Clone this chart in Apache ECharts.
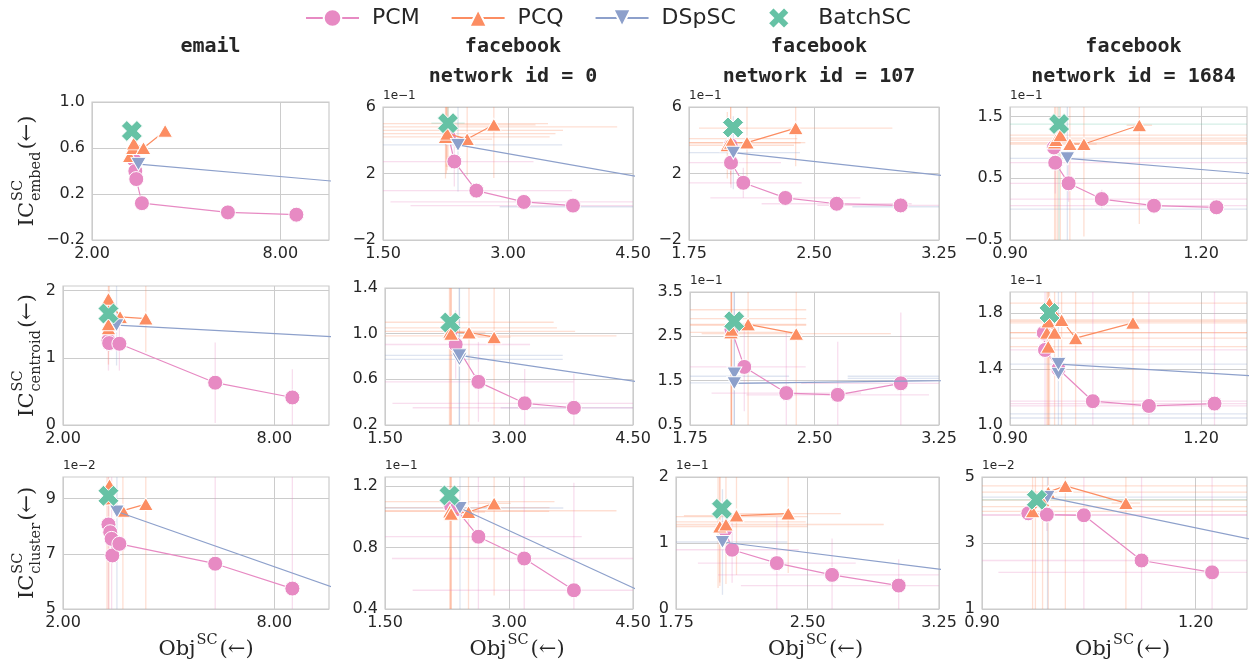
<!DOCTYPE html>
<html>
<head>
<meta charset="utf-8">
<script src="https://cdn.jsdelivr.net/npm/echarts@6/dist/echarts.min.js"></script>
<style>
  html, body { margin: 0; padding: 0; background: #fff; }
  #chart { width: 1249px; height: 668px; }
</style>
</head>
<body>
<div id="chart"></div>
<script>
// seaborn Set2 colours
const COLORS = { PCM: '#e78ac3', PCQ: '#fc8d62', DSpSC: '#8da0cb', BatchSC: '#66c2a5' }
const METHODS = ['PCM', 'PCQ', 'DSpSC', 'BatchSC']

const columnTitles = ['email', 'facebook\nnetwork id = 0', 'facebook\nnetwork id = 107', 'facebook\nnetwork id = 1684']
const rowMetrics = ['embed', 'centroid', 'cluster']

// x axis per column
const xRanges = [[2, 9.55], [1.5, 4.5], [1.75, 3.25], [0.9, 1.272]]
const xTicks = [[2, 8], [1.5, 3, 4.5], [1.75, 2.5, 3.25], [0.9, 1.2]]

// y axis per panel, row by row, in the units printed on the axis (see yExponent)
const yRanges = [
  [[-0.2, 1.0], [-2, 6], [-2, 6], [-0.5, 1.656]],
  [[0, 2.07], [0.2, 1.4], [0.5, 3.5], [1.0, 1.95]],
  [[5, 9.78], [0.4, 1.26], [0, 2], [1, 5]]
]
const yTicks = [
  [[-0.2, 0.2, 0.6, 1.0], [-2, 2, 6], [-2, 2, 6], [-0.5, 0.5, 1.5]],
  [[0, 1, 2], [0.2, 0.6, 1.0, 1.4], [0.5, 1.5, 2.5, 3.5], [1.0, 1.4, 1.8]],
  [[5, 7, 9], [0.4, 0.8, 1.2], [0, 1, 2], [1, 3, 5]]
]
const yDecimals = [[1, 0, 0, 1], [0, 1, 1, 1], [0, 1, 0, 0]]
const yExponent = [
  ['', '1e\u22121', '1e\u22121', '1e\u22121'],
  ['', '', '1e\u22121', '1e\u22121'],
  ['1e\u22122', '1e\u22121', '1e\u22121', '1e\u22122']
]

// points [Obj, IC] per panel
const pcmPoints = [
  [
    [[3.33, 0.50], [3.38, 0.40], [3.41, 0.33], [3.59, 0.12], [6.33, 0.04], [8.51, 0.02]],
    [[2.29, 4.2], [2.356, 2.72], [2.62, 0.97], [3.19, 0.29], [3.78, 0.07]],
    [[2.0, 3.7], [2.002, 2.65], [2.076, 1.44], [2.328, 0.53], [2.636, 0.18], [3.02, 0.08]],
    [[0.969, 1.0], [0.971, 0.753], [0.992, 0.419], [1.044, 0.164], [1.126, 0.056], [1.224, 0.03]]
  ],
  [
    [[3.29, 1.26], [3.31, 1.22], [3.6, 1.21], [6.32, 0.63], [8.51, 0.41]],
    [[2.30, 1.03], [2.355, 0.905], [2.63, 0.578], [3.19, 0.39], [3.785, 0.351]],
    [[2.0, 2.65], [2.077, 1.81], [2.33, 1.22], [2.64, 1.18], [3.02, 1.44]],
    [[0.953, 1.658], [0.955, 1.536], [0.976, 1.40], [1.03, 1.17], [1.118, 1.136], [1.221, 1.153]]
  ],
  [
    [[3.29, 8.06], [3.34, 7.78], [3.38, 7.54], [3.40, 6.94], [3.6, 7.36], [6.32, 6.64], [8.51, 5.74]],
    [[2.30, 1.07], [2.36, 1.05], [2.63, 0.871], [3.184, 0.729], [3.785, 0.522]],
    [[2.03, 1.2], [2.07, 0.898], [2.325, 0.695], [2.64, 0.517], [3.02, 0.355]],
    [[0.965, 3.9], [0.991, 3.86], [1.043, 3.84], [1.124, 2.47], [1.223, 2.11]]
  ]
]

const pcqPoints = [
  [
    [[3.2, 0.53], [3.3, 0.6], [3.33, 0.64], [3.64, 0.60], [4.33, 0.75]],
    [[2.25, 4.2], [2.27, 4.4], [2.51, 4.07], [2.83, 4.93]],
    [[1.98, 3.7], [2.0, 3.85], [2.098, 3.86], [2.39, 4.73]],
    [[0.970, 1.08], [0.972, 1.12], [0.979, 1.2], [0.994, 1.056], [1.016, 1.056], [1.103, 1.36]]
  ],
  [
    [[3.29, 1.44], [3.29, 1.5], [3.29, 1.88], [3.62, 1.61], [4.35, 1.585]],
    [[2.286, 1.016], [2.30, 1.0], [2.516, 1.01], [2.82, 0.969]],
    [[1.997, 2.59], [2.0, 2.65], [2.10, 2.77], [2.39, 2.56]],
    [[0.96, 1.56], [0.958, 1.66], [0.97, 1.66], [0.96, 1.74], [0.962, 1.87], [0.981, 1.75], [1.003, 1.62], [1.093, 1.73]]
  ],
  [
    [[3.32, 9.49], [3.30, 9.0], [3.70, 8.56], [4.35, 8.8]],
    [[2.286, 1.036], [2.30, 1.02], [2.51, 1.032], [2.82, 1.088]],
    [[2.0, 1.25], [2.035, 1.28], [2.095, 1.416], [2.39, 1.446]],
    [[0.971, 3.96], [0.985, 4.3], [0.993, 4.54], [1.017, 4.73], [1.102, 4.21]]
  ]
]

// last point of each DSpSC run lies outside the visible range
const dspscPoints = [
  [
    [[3.48, 0.46], [20, 0.064]],
    [[2.40, 3.72], [6.6, 0.0]],
    [[2.016, 3.25], [5.0, 0.0]],
    [[0.99, 0.824], [1.946, 0.0]]
  ],
  [
    [[3.52, 1.486], [20, 1.03]],
    [[2.40, 0.775], [2.40, 0.81], [6.7, 0.35]],
    [[2.017, 1.66], [2.017, 1.44], [5.3, 1.6]],
    [[0.976, 1.365], [0.976, 1.435], [3, 0.876]]
  ],
  [
    [[3.53, 8.53], [20, 1.15]],
    [[2.407, 1.058], [10, -0.825]],
    [[2.015, 1.015], [6, -0.312]],
    [[0.992, 4.39], [2, -0.11]]
  ]
]

const batchPoints = [
  [[3.27, 0.748], [2.28, 5.03], [2.014, 4.77], [0.977, 1.38]],
  [[3.29, 1.66], [2.29, 1.098], [2.016, 2.84], [0.962, 1.80]],
  [[3.29, 9.1], [2.28, 1.14], [2.012, 1.517], [0.977, 4.31]]
]

// error bars per panel: [method, x, y, xerr, yerr]
const errorBars = [
  [
    [
      ['PCM', 6.33, 0.04, 0, 0.03], ['PCQ', 4.33, 0.75, 0, 0.04]
    ],
    [
      ['PCQ', 2.25, 4.2, 1.25, 2.5], ['PCQ', 2.27, 4.4, 1.3, 2.2], ['PCQ', 2.26, 4.6, 1.4, 2.6],
      ['PCQ', 2.26, 4.8, 2.05, 2.4], ['PCQ', 2.28, 5.0, 1.2, 2.6], ['PCQ', 2.51, 4.07, 0.3, 2.2],
      ['PCQ', 2.83, 4.93, 0.5, 3.2],
      ['DSpSC', 2.40, 3.72, 1.25, 2.8], ['DSpSC', 6.6, 0.0, 3.7, 0],
      ['PCM', 2.356, 2.72, 0.95, 1.5], ['PCM', 2.62, 0.97, 1.15, 0.4],
      ['PCM', 3.19, 0.29, 1.6, 0.3], ['PCM', 3.78, 0.07, 1.95, 0.2],
      ['BatchSC', 2.28, 5.03, 0.2, 1.0]
    ],
    [
      ['PCQ', 1.98, 3.7, 0.4, 2.0], ['PCQ', 2.0, 3.85, 0.42, 2.5], ['PCQ', 2.0, 4.1, 0.4, 2.2],
      ['PCQ', 2.098, 3.86, 0.35, 2.3], ['PCQ', 2.39, 4.73, 0.58, 2.3],
      ['DSpSC', 2.016, 3.25, 0.4, 2.2], ['DSpSC', 5.0, 0.0, 2.27, 0],
      ['PCM', 2.076, 1.44, 0.35, 0.9], ['PCM', 2.328, 0.53, 0.45, 0.4],
      ['PCM', 2.636, 0.18, 0.45, 0.2], ['PCM', 3.02, 0.08, 0.5, 0.2], ['PCM', 2.002, 2.65, 0.3, 1.5]
    ],
    [
      ['PCQ', 0.970, 1.08, 0.5, 2.0], ['PCQ', 0.972, 1.12, 0.5, 2.0], ['PCQ', 0.979, 1.2, 0.5, 2.0],
      ['PCQ', 0.975, 1.15, 0.5, 2.0], ['PCQ', 0.994, 1.056, 0.5, 1.6],
      ['PCQ', 1.016, 1.056, 0.02, 1.5], ['PCQ', 1.103, 1.36, 0.02, 1.6],
      ['DSpSC', 0.99, 0.824, 0.5, 1.5], ['DSpSC', 1.946, 0.0, 1.2, 0],
      ['PCM', 0.971, 0.753, 0.4, 0.5], ['PCM', 0.992, 0.419, 0.4, 0.3],
      ['PCM', 1.044, 0.164, 0.4, 0.15], ['PCM', 1.126, 0.056, 0.4, 0.1],
      ['BatchSC', 0.977, 1.38, 0.5, 2.0]
    ]
  ],
  [
    [
      ['PCM', 6.32, 0.63, 0, 0.6], ['PCM', 8.51, 0.41, 0, 0.42], ['PCM', 3.6, 1.21, 0, 0.4],
      ['PCM', 3.29, 1.26, 0, 0.45], ['PCQ', 4.35, 1.585, 0, 0.5], ['PCQ', 3.29, 1.5, 0, 0.6],
      ['PCQ', 3.31, 1.6, 0, 0.5], ['DSpSC', 3.52, 1.486, 0, 0.6]
    ],
    [
      ['PCQ', 2.29, 1.1, 1.25, 1.2], ['PCQ', 2.28, 1.05, 1.3, 1.2], ['PCQ', 2.3, 1.02, 1.5, 1.2],
      ['PCQ', 2.3, 0.98, 2.0, 1.2], ['PCQ', 2.516, 1.01, 0.2, 1.1], ['PCQ', 2.82, 0.969, 0.2, 1.1],
      ['DSpSC', 2.40, 0.81, 1.25, 1.2], ['DSpSC', 2.40, 0.775, 1.25, 1.2], ['DSpSC', 6.7, 0.35, 3.8, 0],
      ['PCM', 2.355, 0.905, 0.9, 0.3], ['PCM', 2.63, 0.578, 1.15, 0.35],
      ['PCM', 3.19, 0.39, 1.6, 0.3], ['PCM', 3.785, 0.351, 1.95, 0.3]
    ],
    [
      ['PCQ', 1.997, 2.59, 0.42, 3.0], ['PCQ', 2.0, 2.75, 0.45, 3.0], ['PCQ', 2.0, 2.9, 0.45, 3.0],
      ['PCQ', 2.0, 3.1, 0.45, 3.0], ['PCQ', 2.10, 2.77, 0.35, 3.0], ['PCQ', 2.39, 2.56, 0.57, 3.0],
      ['DSpSC', 2.017, 1.45, 0.33, 3.0], ['DSpSC', 2.017, 1.6, 0.33, 3.0],
      ['DSpSC', 5.3, 1.6, 2.6, 0], ['DSpSC', 5.3, 1.55, 2.6, 0],
      ['PCM', 2.077, 1.81, 0.37, 1.0], ['PCM', 2.33, 1.22, 0.45, 1.4],
      ['PCM', 2.64, 1.18, 0.55, 1.2], ['PCM', 3.02, 1.44, 0.6, 1.6]
    ],
    [
      ['PCQ', 0.96, 1.56, 0.4, 1.0], ['PCQ', 0.958, 1.66, 0.4, 1.0], ['PCQ', 0.97, 1.66, 0.4, 1.0],
      ['PCQ', 0.96, 1.74, 0.4, 1.0], ['PCQ', 0.962, 1.87, 0.4, 1.0], ['PCQ', 0.981, 1.75, 0.4, 1.0],
      ['PCQ', 1.003, 1.62, 0.4, 1.0], ['PCQ', 1.093, 1.73, 0.4, 1.0],
      ['PCM', 1.03, 1.17, 0.4, 1.0], ['PCM', 1.118, 1.136, 0.4, 1.0], ['PCM', 1.221, 1.153, 0.4, 1.0],
      ['PCM', 0.955, 1.536, 0.4, 1.0],
      ['DSpSC', 0.976, 1.435, 0.4, 1.0], ['DSpSC', 0.976, 1.05, 0.4, 0], ['DSpSC', 0.976, 1.08, 0.4, 0]
    ]
  ],
  [
    [
      ['PCM', 3.29, 8.06, 0, 5], ['PCM', 3.38, 7.54, 0, 5], ['PCQ', 3.30, 9.0, 0, 5],
      ['PCQ', 3.25, 9.2, 0, 5], ['PCQ', 4.35, 8.8, 0, 5], ['PCQ', 3.70, 8.56, 0, 5],
      ['PCM', 6.32, 6.64, 0, 5], ['PCM', 8.51, 5.74, 0, 5], ['DSpSC', 3.53, 8.53, 0, 5]
    ],
    [
      ['PCQ', 2.286, 1.036, 1.2, 1.0], ['PCQ', 2.29, 1.06, 1.2, 1.0], ['PCQ', 2.3, 1.1, 1.25, 1.0],
      ['PCQ', 2.3, 1.04, 2.0, 1.0], ['PCQ', 2.51, 1.032, 0.2, 1.0], ['PCQ', 2.82, 1.088, 0.2, 0.6],
      ['DSpSC', 2.407, 1.058, 1.25, 1.0],
      ['PCM', 2.63, 0.871, 1.25, 1.0], ['PCM', 3.184, 0.729, 1.6, 1.0], ['PCM', 3.785, 0.522, 1.95, 0.7]
    ],
    [
      ['PCQ', 2.0, 1.25, 0.5, 0.9], ['PCQ', 1.99, 1.32, 0.5, 1.0], ['PCQ', 2.0, 1.4, 0.5, 1.0],
      ['PCQ', 2.035, 1.28, 0.9, 0.9], ['PCQ', 2.095, 1.416, 0.3, 0.9], ['PCQ', 2.39, 1.446, 0.3, 0.9],
      ['DSpSC', 2.015, 1.015, 0.37, 0.8],
      ['PCM', 2.07, 0.898, 0.38, 0.5], ['PCM', 2.325, 0.695, 0.45, 0.7],
      ['PCM', 2.64, 0.517, 0.65, 0.55], ['PCM', 3.02, 0.355, 0.9, 0.4]
    ],
    [
      ['PCQ', 0.971, 3.96, 0.4, 4], ['PCQ', 0.975, 4.1, 0.4, 4], ['PCQ', 0.985, 4.3, 0.4, 4],
      ['PCQ', 0.993, 4.54, 0.4, 4], ['PCQ', 1.017, 4.73, 0.4, 4], ['PCQ', 1.102, 4.21, 0.02, 4],
      ['PCM', 0.991, 3.86, 0.4, 0.5], ['PCM', 1.043, 3.84, 0.4, 4],
      ['PCM', 1.124, 2.47, 0.3, 4], ['PCM', 1.223, 2.11, 0.3, 4],
      ['DSpSC', 0.992, 4.39, 0.5, 4], ['BatchSC', 0.977, 4.31, 0.5, 0.2]
    ]
  ]
]

// plot boxes in pixels: [left, top, right, bottom]
const panelBoxes = [
  [[92, 102, 329, 240], [383, 107, 633, 240], [689, 107, 939, 240], [1010, 107, 1247, 240]],
  [[63, 286, 329, 425], [385, 288, 633, 425], [690, 292, 939, 425], [1010, 292, 1247, 425]],
  [[63, 477, 329, 609], [385, 477, 633, 609], [676, 477, 939, 609], [982, 477, 1247, 609]]
]

const X_SYMBOL = 'path://M2.6,0 L5,2.4 L7.4,0 L10,2.6 L7.6,5 L10,7.4 L7.4,10 L5,7.6 L2.6,10 L0,7.4 L2.4,5 L0,2.6 Z'
const TEXT_COLOR = '#262626'
const GRID_COLOR = '#cccccc'

const minus = (s) => String(s).replace('-', '\u2212')

const chart = echarts.init(document.getElementById('chart'))

const grids = []
const xAxes = []
const yAxes = []
const series = []
const graphics = []

const renderErrorBar = (params, api) => {
  const x = api.value(0)
  const y = api.value(1)
  const xe = api.value(2)
  const ye = api.value(3)
  const color = api.visual('color')
  const style = { stroke: color, lineWidth: 1.3, opacity: 0.28 }
  const kids = []
  if (xe > 0) {
    const a = api.coord([x - xe, y])
    const b = api.coord([x + xe, y])
    kids.push({ type: 'line', shape: { x1: a[0], y1: a[1], x2: b[0], y2: b[1] }, style })
  }
  if (ye > 0) {
    const a = api.coord([x, y - ye])
    const b = api.coord([x, y + ye])
    kids.push({ type: 'line', shape: { x1: a[0], y1: a[1], x2: b[0], y2: b[1] }, style })
  }
  return { type: 'group', children: kids }
}

for (let r = 0; r < 3; r++) {
  for (let c = 0; c < 4; c++) {
    const i = r * 4 + c
    const [l, t, rr, b] = panelBoxes[r][c]
    grids.push({
      left: l, top: t, width: rr - l, height: b - t,
      show: true, borderColor: GRID_COLOR, borderWidth: 1.2, backgroundColor: '#fff'
    })
    xAxes.push({
      type: 'value', gridIndex: i,
      min: xRanges[c][0], max: xRanges[c][1],
      axisLine: { show: false },
      axisTick: { show: false, customValues: xTicks[c] },
      splitLine: { show: true, lineStyle: { color: GRID_COLOR, width: 1 } },
      axisLabel: {
        customValues: xTicks[c], margin: 6,
        color: TEXT_COLOR, fontSize: 16, fontFamily: 'DejaVu Sans',
        formatter: (v) => v.toFixed(2)
      }
    })
    const dec = yDecimals[r][c]
    yAxes.push({
      type: 'value', gridIndex: i,
      min: yRanges[r][c][0], max: yRanges[r][c][1],
      axisLine: { show: false },
      axisTick: { show: false, customValues: yTicks[r][c] },
      splitLine: { show: true, lineStyle: { color: GRID_COLOR, width: 1 } },
      axisLabel: {
        customValues: yTicks[r][c], margin: 7,
        color: TEXT_COLOR, fontSize: 16, fontFamily: 'DejaVu Sans',
        formatter: (v) => minus(v.toFixed(dec))
      }
    })

    const base = { xAxisIndex: i, yAxisIndex: i, animation: false }
    series.push({
      ...base, type: 'custom', clip: true, z: 1, silent: true,
      renderItem: renderErrorBar,
      data: errorBars[r][c].map(([m, x, y, xe, ye]) => ({
        value: [x, y, xe, ye], itemStyle: { color: COLORS[m] }
      }))
    })
    series.push({
      ...base, name: 'PCM', type: 'line', data: pcmPoints[r][c], z: 2,
      symbol: 'circle', symbolSize: 15,
      itemStyle: { color: COLORS.PCM, borderColor: '#fff', borderWidth: 1 },
      lineStyle: { color: COLORS.PCM, width: 1.2 }
    })
    series.push({
      ...base, name: 'PCQ', type: 'line', data: pcqPoints[r][c], z: 3,
      symbol: 'triangle', symbolSize: [15, 13],
      itemStyle: { color: COLORS.PCQ, borderColor: '#fff', borderWidth: 1 },
      lineStyle: { color: COLORS.PCQ, width: 1.2 }
    })
    series.push({
      ...base, name: 'DSpSC', type: 'line', data: dspscPoints[r][c], z: 4,
      symbol: 'triangle', symbolRotate: 180, symbolSize: [15, 13],
      itemStyle: { color: COLORS.DSpSC, borderColor: '#fff', borderWidth: 1 },
      lineStyle: { color: COLORS.DSpSC, width: 1.2 }
    })
    series.push({
      ...base, name: 'BatchSC', type: 'scatter', data: [batchPoints[r][c]], z: 5,
      symbol: X_SYMBOL, symbolSize: 21,
      itemStyle: { color: COLORS.BatchSC, borderColor: '#fff', borderWidth: 1, opacity: 1 }
    })

    if (yExponent[r][c]) {
      graphics.push({
        type: 'text', left: l, top: t - 17,
        style: { text: yExponent[r][c], fontSize: 12, fontFamily: 'DejaVu Sans', fill: TEXT_COLOR }
      })
    }
  }
}

// column titles
columnTitles.forEach((title, c) => {
  const [l, , rr] = panelBoxes[0][c]
  graphics.push({
    type: 'text', x: (l + rr) / 2 + (c === 0 ? 0 : 5), y: 32,
    style: {
      text: title, fontSize: 20, fontWeight: 'bold', fontFamily: 'DejaVu Sans Mono',
      fill: TEXT_COLOR, align: 'center', verticalAlign: 'top', lineHeight: 30
    }
  })
})

// text width helper for placing super/subscripts
const measureCtx = document.createElement('canvas').getContext('2d')
const textWidth = (txt, size) => {
  measureCtx.font = size + 'px "DejaVu Serif"'
  return measureCtx.measureText(txt).width
}

const mathLabel = (main, sup, sub) => {
  const big = 21
  const small = 14.5
  const wMain = textWidth(main, big)
  const wScript = Math.max(textWidth(sup, small), sub ? textWidth(sub, small) : 0)
  const wTail = textWidth('(\u2190)', big)
  const total = wMain + 1 + wScript + 2 + wTail
  const x0 = -total / 2
  const font = { fontFamily: 'DejaVu Serif', fill: TEXT_COLOR, verticalAlign: 'middle' }
  const kids = [
    { type: 'text', x: x0, y: 0, style: { ...font, text: main, fontSize: big } },
    { type: 'text', x: x0 + wMain + 1, y: -10, style: { ...font, text: sup, fontSize: small } },
    { type: 'text', x: x0 + wMain + 1 + wScript + 2, y: 0, style: { ...font, text: '(\u2190)', fontSize: big } }
  ]
  if (sub) kids.push({ type: 'text', x: x0 + wMain + 1, y: 8, style: { ...font, text: sub, fontSize: small } })
  return kids
}

// y labels
rowMetrics.forEach((m, r) => {
  const [, t, , b] = panelBoxes[r][0]
  graphics.push({
    type: 'group', x: 28, y: (t + b) / 2, rotation: Math.PI / 2,
    children: mathLabel('IC', 'SC', m)
  })
})

// x labels
for (let c = 0; c < 4; c++) {
  const [l, , rr] = panelBoxes[2][c]
  graphics.push({
    type: 'group', x: (l + rr) / 2 + (c === 0 ? 10 : 8), y: 650,
    children: mathLabel('Obj', 'SC', '')
  })
}

chart.setOption({
  backgroundColor: '#fff',
  animation: false,
  legend: {
    top: 1, left: 300,
    data: METHODS,
    itemWidth: 53, itemHeight: 22, itemGap: 31,
    textStyle: { fontSize: 22, fontFamily: 'DejaVu Sans', color: TEXT_COLOR, padding: [0, 0, 0, 8] }
  },
  grid: grids,
  xAxis: xAxes,
  yAxis: yAxes,
  series: series,
  graphic: graphics
})
</script>
</body>
</html>
